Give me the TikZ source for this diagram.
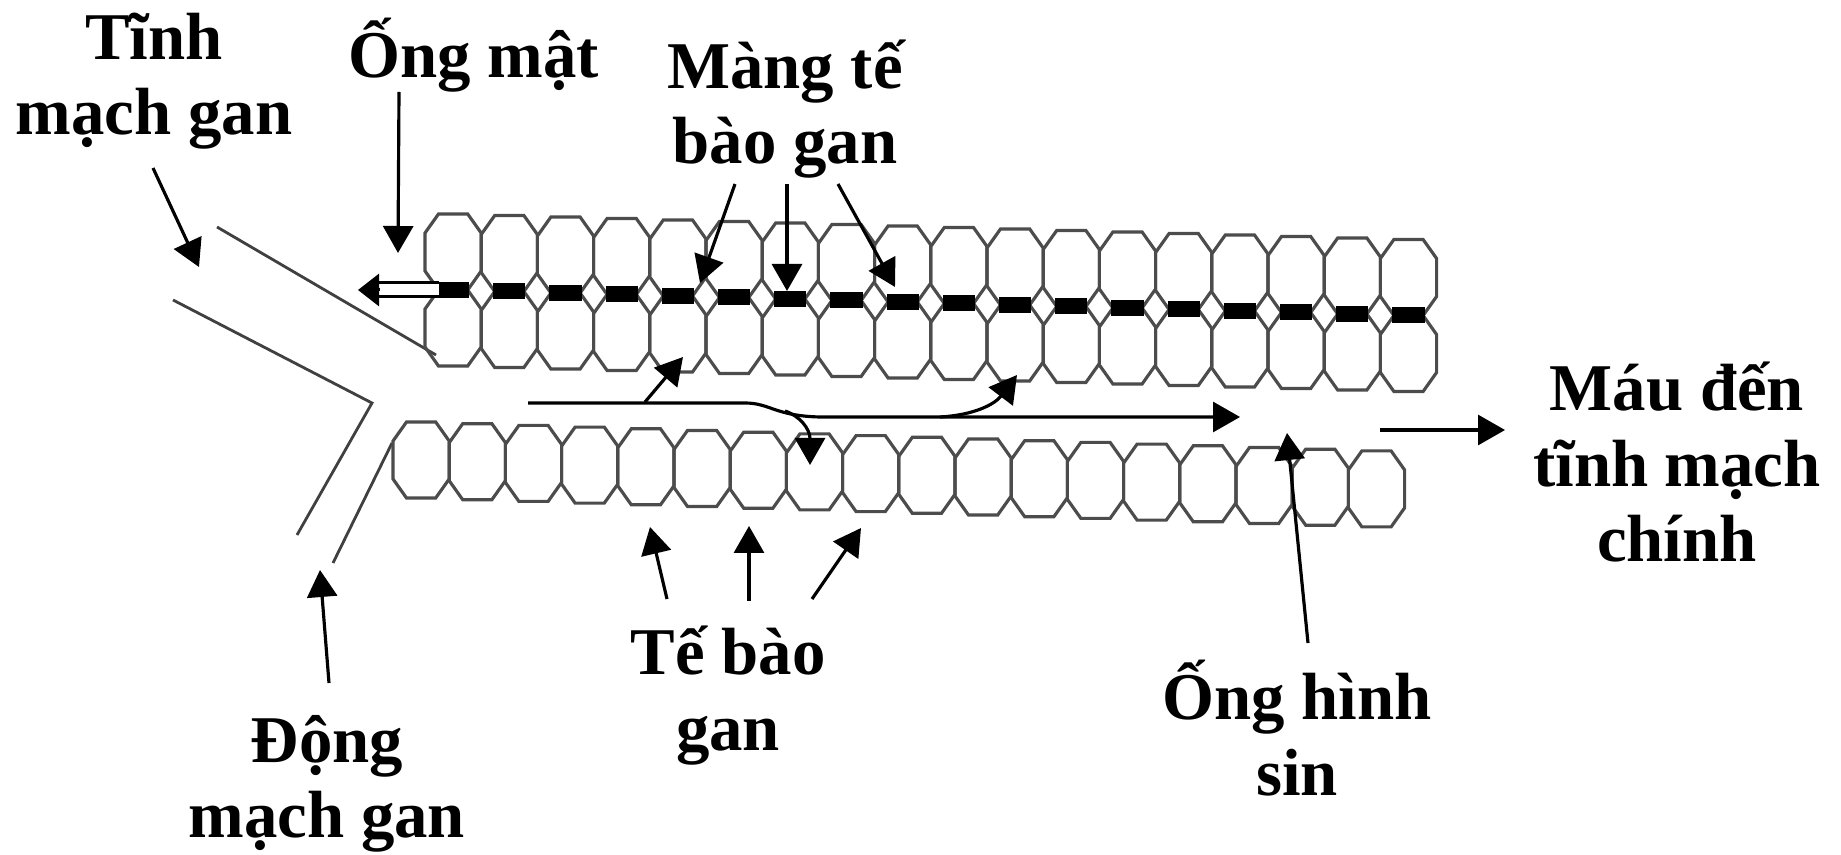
\documentclass[tikz,border=0pt]{standalone}
\usepackage{fontspec}
\setmainfont{Liberation Serif}
\usetikzlibrary{arrows.meta}

\tikzset{
  cellline/.style={black!70, line width=0.9pt, line join=miter},
  canal/.style={line width=0.16cm},
  vessel/.style={black!75, line width=0.8pt},
  pointer/.style={line width=0.9pt, -{Triangle[width=0.3cm,length=0.27cm]}},
  tag/.style={font=\bfseries\fontsize{19}{21.6}\selectfont, align=center, inner sep=0pt, anchor=base},
  hepcell/.pic={\draw[cellline] (0.135,0) -- (0.427,0) -- (0.562,0.19) -- (0.562,0.57) -- (0.427,0.76) -- (0.135,0.76) -- (0,0.57) -- (0,0.19) -- cycle;}
}

\begin{document}
\begin{tikzpicture}
\useasboundingbox (0,0) rectangle (18.41,8.54);

%%%%%%%%%%%%%%%%%% Vessels on the left %%%%%%%%%%%%%%%%%%
\draw[vessel] (2.17,6.27) -- (4.36,4.99);
\draw[vessel] (1.73,5.54) -- (3.72,4.51) -- (2.97,3.19);
\draw[vessel] (3.92,4.11) -- (3.33,2.91);

%%%%%%%%%%%%%%%%%% Upper band: two rows and the canal %%%%%%%%%%%%%%%%%%
\foreach \i in {0,...,17}{
  \begin{scope}[shift={({4.25+0.562*\i},{5.64-0.015*\i})}]
    \pic at (0,0) {hepcell};
    \pic at (0,-0.76) {hepcell};
    \draw[canal] (0.12,0) -- (0.442,0);
  \end{scope}
}

%%%%%%%%%%%%%%%%%% Lower band %%%%%%%%%%%%%%%%%%
\foreach \i in {0,...,17}
  \pic at ({3.93+0.562*\i},{3.56-0.017*\i}) {hepcell};

%%%%%%%%%%%%%%%%%% Labels (placed by the baseline of their last line) %%%%%%%%%%%%%%%%%%
\node[tag] (tinh) at (1.54,7.19) {Tĩnh\\mạch gan};
\node[tag] (ongmat) at (4.74,7.76) {Ống mật};
\node[tag] (mang) at (7.85,6.90) {Màng tế\\bào gan};
\node[tag] (mau) at (16.77,2.92) {Máu đến\\tĩnh mạch\\chính};
\node[tag] (tebao) at (7.28,1.04) {Tế bào\\gan};
\node[tag] (onghinh) at (12.97,0.59) {Ống hình\\sin};
\node[tag] (dong) at (3.27,0.16) {Động\\mạch gan};

%%%%%%%%%%%%%%%%%% Bile leaving the canal %%%%%%%%%%%%%%%%%%
\coordinate (duct) at (4.385,5.64);
\coordinate (ductend) at (3.58,5.64);
\draw[line width=0.03cm, double, double distance=0.11cm] (duct) -- ([xshift=0.19cm]ductend);
\draw[line width=0.03cm, -{Triangle[width=0.32cm,length=0.21cm]}] ([xshift=0.22cm]ductend) -- (ductend);

%%%%%%%%%%%%%%%%%% Blood flow in the sinusoid %%%%%%%%%%%%%%%%%%
\coordinate (inflow) at (5.28,4.51);
\coordinate (outflow) at (12.40,4.37);
\draw[pointer] (inflow) -- (7.45,4.51) .. controls (7.70,4.51) and (7.75,4.38) .. (8.20,4.37) -- (outflow);
\draw[pointer] (6.45,4.52) -- (6.83,4.97);
\draw[pointer] (7.85,4.43) .. controls (8.00,4.38) and (8.10,4.25) .. (8.10,3.89);
\draw[pointer] (9.40,4.37) .. controls (9.75,4.39) and (9.95,4.50) .. (10.17,4.79);
\draw[pointer] (13.80,4.24) -- (15.05,4.24);

%%%%%%%%%%%%%%%%%% Pointers from the labels %%%%%%%%%%%%%%%%%%
\coordinate (tinhA) at (1.53,6.86);
\coordinate (ongmatA) at (3.99,7.62);
\coordinate (mangA) at (7.35,6.70);
\coordinate (mangB) at (7.87,6.70);
\coordinate (mangC) at (8.38,6.70);
\coordinate (tebaoA) at (6.67,2.55);
\coordinate (tebaoB) at (7.49,2.53);
\coordinate (tebaoC) at (8.12,2.55);
\coordinate (onghinhA) at (13.08,2.11);
\coordinate (dongA) at (3.29,1.71);

\draw[pointer] (tinhA) -- (1.99,5.87);
\draw[pointer] (ongmatA) -- (3.98,6.01);
\draw[pointer] (mangA) -- (7.00,5.71);
\draw[pointer] (mangB) -- (7.87,5.63);
\draw[pointer] (mangC) -- (8.95,5.67);
\draw[pointer] (tebaoA) -- (6.50,3.27);
\draw[pointer] (tebaoB) -- (7.49,3.28);
\draw[pointer] (tebaoC) -- (8.61,3.26);
\draw[pointer] (onghinhA) -- (12.87,4.21);
\draw[pointer] (dongA) -- (3.20,2.84);

\end{tikzpicture}
\end{document}
